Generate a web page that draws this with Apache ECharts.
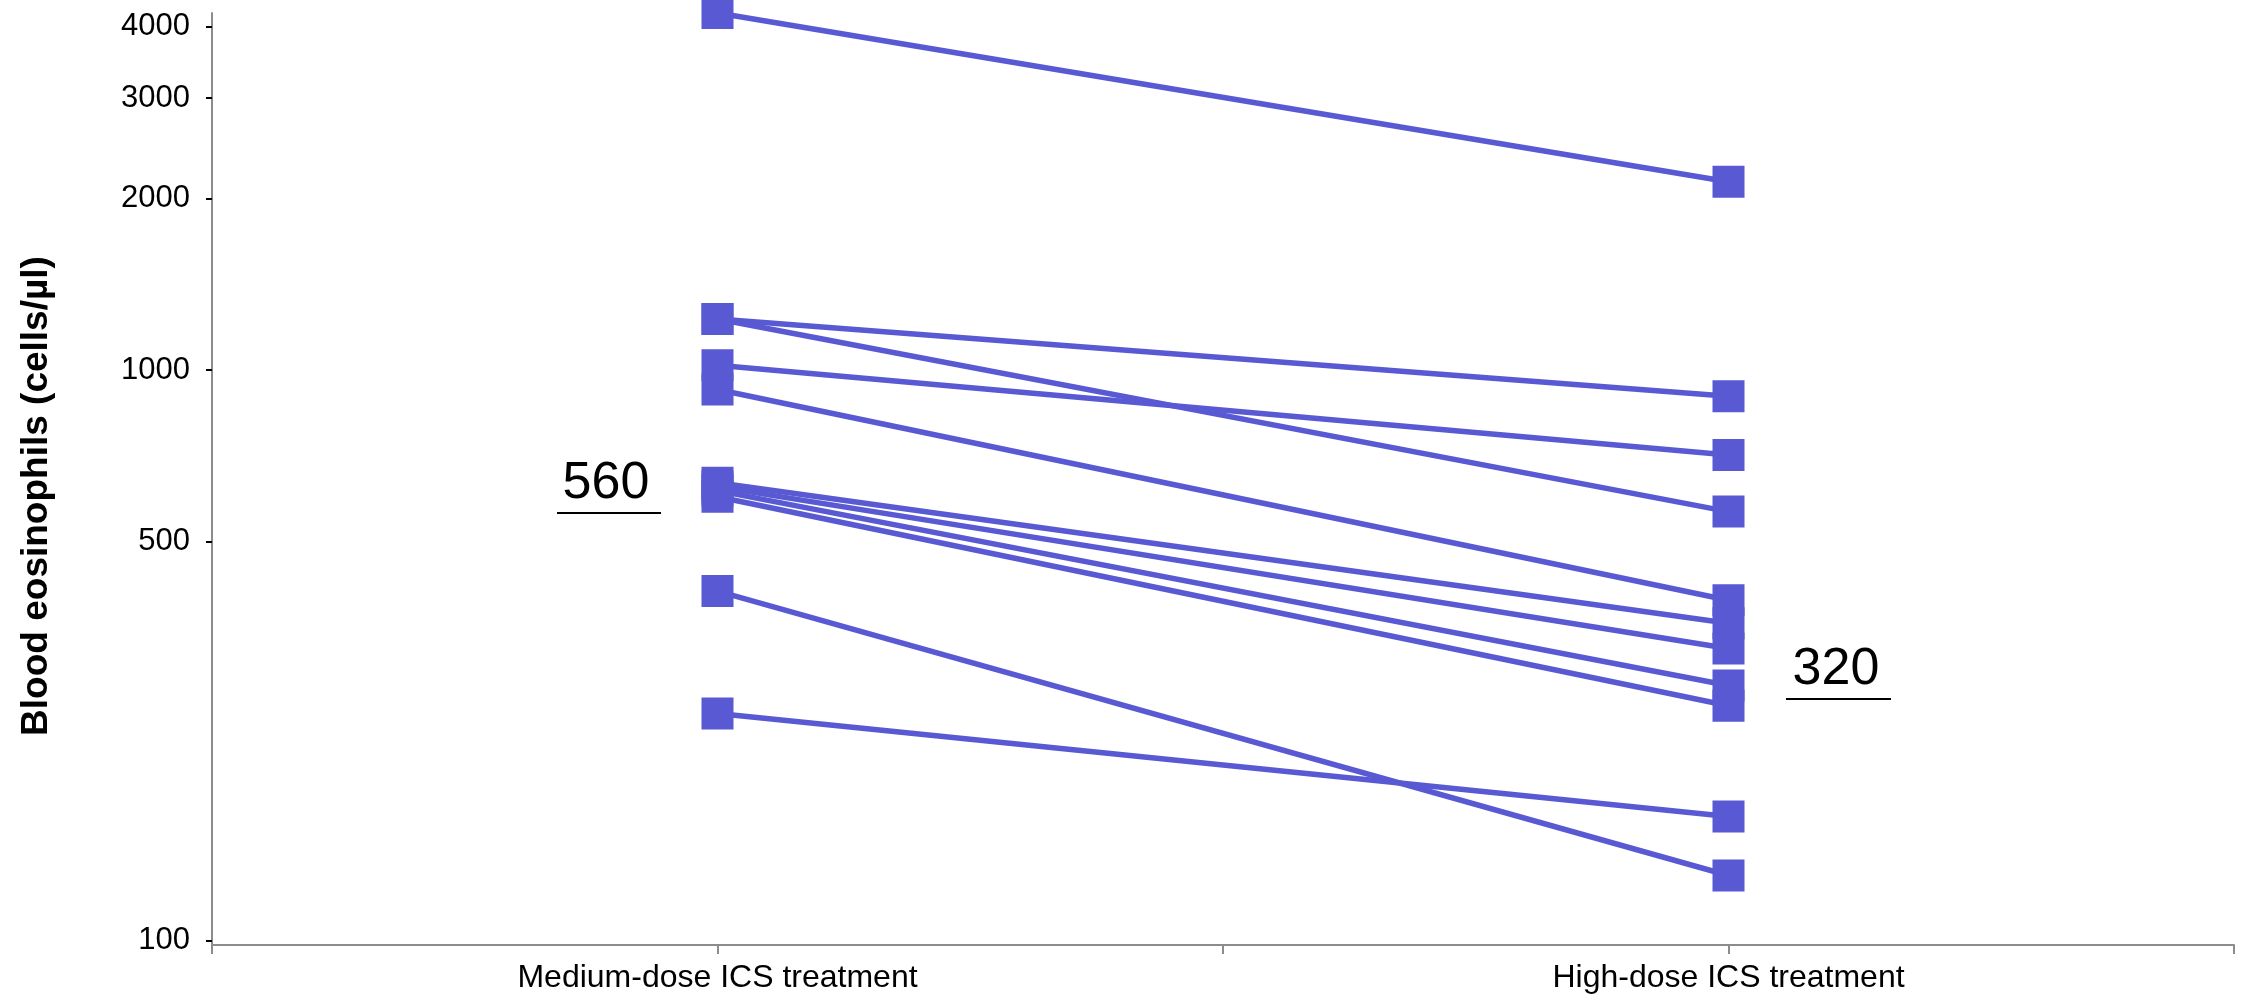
<!DOCTYPE html>
<html>
<head>
<meta charset="utf-8">
<title>Blood eosinophils by ICS dose</title>
<script src="https://cdn.jsdelivr.net/npm/echarts@6/dist/echarts.min.js"></script>
<style>
  html, body { margin: 0; padding: 0; background: #fff; }
  #chart { width: 2246px; height: 996px; }
</style>
</head>
<body>
<div id="chart"></div>
<script>
// Treatment groups on the x axis
const categories = ['Medium-dose ICS treatment', 'High-dose ICS treatment'];
// Blood eosinophil counts (cells/µl) per patient, paired by index
const mediumDose = [4230, 1230, 1230, 1020, 925, 635, 625, 615, 600, 410, 250];
const highDose   = [2140, 900, 565, 710, 395, 360, 325, 280, 258, 130, 165];
// Tick values shown on the log y axis
const yTicks = [100, 500, 1000, 2000, 3000, 4000];
// Group summary values written beside each column
const groupSummary = ['560', '320'];

const FONT = "'Liberation Sans', Arial, Helvetica, sans-serif";
const MARK_COLOR = '#5959d3';
const AXIS_GRAY = '#8c8c8c';

// x slots: empty padding slots around and between the two groups
const xSlots = [' ', categories[0], '  ', categories[1], '   '];

const series = mediumDose.map((v, i) => ({
  type: 'line',
  name: 'patient ' + (i + 1),
  data: [[categories[0], v], [categories[1], highDose[i]]],
  symbol: 'rect',
  symbolSize: 32,
  clip: false,
  lineStyle: { color: MARK_COLOR, width: 5.5 },
  itemStyle: { color: MARK_COLOR },
  emphasis: { disabled: true },
  animation: false
}));

const chart = echarts.init(document.getElementById('chart'), null, { renderer: 'canvas' });

// summary number with an underline, placed beside a column
function summaryLabel(text, cx, cy, ux1, ux2, uy) {
  return [
    {
      type: 'text', x: cx, y: cy,
      style: { text: text, font: '52px ' + FONT, fill: '#000', align: 'center', verticalAlign: 'middle' },
      silent: true
    },
    {
      type: 'line',
      shape: { x1: ux1, y1: uy, x2: ux2, y2: uy },
      style: { stroke: '#000', lineWidth: 2 },
      silent: true
    }
  ];
}

chart.setOption({
  backgroundColor: '#ffffff',
  animation: false,
  grid: { left: 212, right: 12, top: 13, bottom: 51, containLabel: false },
  xAxis: {
    type: 'category',
    data: xSlots,
    boundaryGap: false,
    axisLine: { show: true, lineStyle: { color: AXIS_GRAY, width: 2 } },
    axisTick: { show: true, interval: 0, length: 9, lineStyle: { color: AXIS_GRAY, width: 2 } },
    axisLabel: {
      interval: 0, margin: 17, fontSize: 32, color: '#000', fontFamily: FONT,
      formatter: (v) => v.trim()
    },
    splitLine: { show: false }
  },
  yAxis: {
    type: 'log',
    logBase: 10,
    min: 98.2,
    max: 4230,
    name: 'Blood eosinophils (cells/µl)',
    nameLocation: 'middle',
    nameGap: 157,
    nameTextStyle: {
      fontSize: 37, fontWeight: 'bold', color: '#000', fontFamily: FONT,
      padding: [0, 34, 0, 0]
    },
    axisLine: { show: true, lineStyle: { color: AXIS_GRAY, width: 2 } },
    axisTick: { show: true, customValues: yTicks, length: 6, lineStyle: { color: '#000', width: 2 } },
    axisLabel: {
      customValues: yTicks, margin: 22, fontSize: 31, color: '#000', fontFamily: FONT,
      formatter: (v) => String(Math.round(v))
    },
    splitLine: { show: false },
    minorTick: { show: false }
  },
  graphic: [
    ...summaryLabel(groupSummary[0], 606, 484, 557, 661, 513),
    ...summaryLabel(groupSummary[1], 1836, 670, 1786, 1891, 699)
  ],
  series: series
});
</script>
</body>
</html>
